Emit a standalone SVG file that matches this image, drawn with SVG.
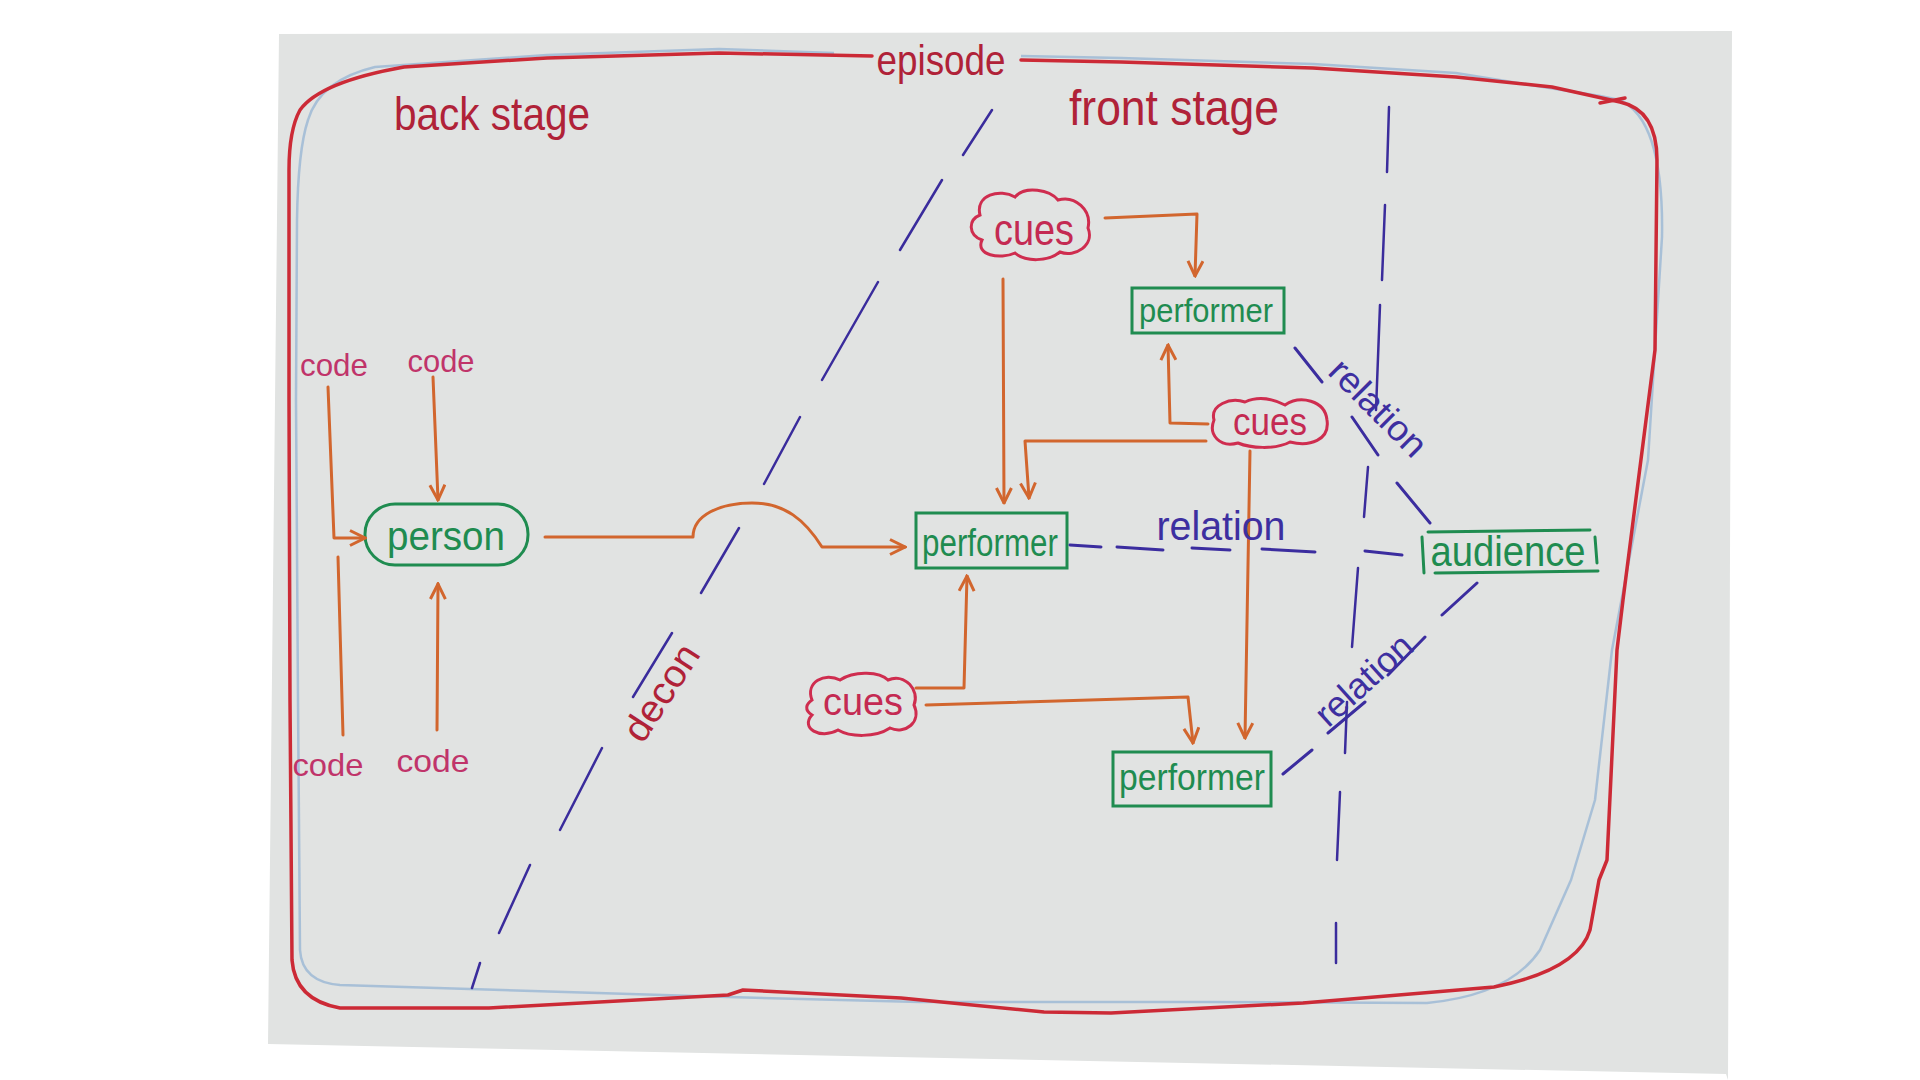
<svg xmlns="http://www.w3.org/2000/svg" width="1920" height="1080" viewBox="0 0 1920 1080">
<defs>
<style>
.paper{fill:#e1e3e2}
.frame{fill:none;stroke:#cc2a36;stroke-width:3.5;stroke-linejoin:round;stroke-linecap:round}
.frameb{fill:none;stroke:#9ab6d4;stroke-width:2.5;opacity:.8;stroke-linejoin:round}
.node{fill:none;stroke:#1f8c50;stroke-width:3;stroke-linecap:round}
.t{font-family:"Liberation Sans","DejaVu Sans",sans-serif;text-anchor:middle}
.green{fill:#1f8c50}
.cue{fill:none;stroke:#cf2d4f;stroke-width:3}
.cuet{fill:#c42a52}
.code{fill:#c0346a}
.title{fill:#b02238}
.arrow{fill:none;stroke:#d2662e;stroke-width:3;stroke-linejoin:round;stroke-linecap:round;marker-end:url(#ah)}
.line{fill:none;stroke:#d2662e;stroke-width:3;stroke-linecap:round}
.rel{fill:none;stroke:#3b2d9f;stroke-width:3;stroke-linecap:round}
.relt{fill:#3d2fa0}
.dash{fill:none;stroke:#3a2c9c;stroke-width:2.5;stroke-linecap:round}
</style>
<marker id="ah" viewBox="0 0 12 12" refX="11" refY="6" markerWidth="18" markerHeight="18" markerUnits="userSpaceOnUse" orient="auto">
<path d="M1,1 L11,6 L1,11" fill="none" stroke="#d2662e" stroke-width="2"/>
</marker>
</defs>
<rect x="0" y="0" width="1920" height="1080" fill="#ffffff"/>
<polygon class="paper" points="279,34 1732,31 1728,1080 1726,1074 268,1044"/>

<g id="episode-frame">
<path class="frameb" d="M834,53 L719,49 L547,55 L375,67 Q320,80 308,120 Q298,150 297,220 L296,400 L298,700 L300,950 Q302,982 340,985 L728,997 L920,1002 L1207,1002 L1427,1003 Q1510,995 1540,950 L1571,880 L1595,800 L1612,650 L1648,460 L1662,237 Q1664,120 1620,100 L1600,96 L1456,73 L1313,64 L1121,58 L1021,56"/>
<path class="frame" d="M872,56 L719,53 L547,58 L404,67 Q320,82 300,110 Q289,130 289,170 L289,400 L290,700 L292,960 Q295,1000 340,1008 L489,1008 L728,995 L743,990 L901,998 L1044,1012 L1111,1013 L1303,1003 L1494,987 Q1578,970 1590,930 L1599,880 L1607,860 L1617,650 L1623,600 L1655,350 L1657,160 Q1657,110 1620,102 L1552,87 L1456,77 L1313,68 L1121,62 L1021,60"/>
<path class="frame" d="M1600,103 L1625,98"/>
<text class="t title" x="941" y="75" font-size="42" textLength="129" lengthAdjust="spacingAndGlyphs">episode</text>
</g>

<g id="stage-labels">
<text class="t title" x="492" y="130" font-size="46" textLength="196" lengthAdjust="spacingAndGlyphs">back stage</text>
<text class="t title" x="1174" y="125" font-size="50" textLength="210" lengthAdjust="spacingAndGlyphs">front stage</text>
<text class="t title" transform="translate(662,693) rotate(-57)" x="0" y="12" font-size="38" textLength="108" lengthAdjust="spacingAndGlyphs">decon</text>
</g>

<g id="stage-boundaries">
<path class="dash" d="M992,110 L963,155 M942,180 L900,250 M878,282 L822,380 M800,417 L764,484 M739,528 L701,593 M672,633 L633,697 M602,748 L560,830 M530,865 L499,933 M480,963 L472,988"/>
<path class="dash" d="M1389,107 L1387,172 M1385,205 L1382,280 M1380,305 L1376,410 M1368,467 L1364,517 M1358,568 L1352,647 M1347,702 L1345,753 M1340,792 L1337,860 M1336,923 L1336,963"/>
</g>

<g id="code-1"><text class="t code" x="334" y="376" font-size="32" textLength="68" lengthAdjust="spacingAndGlyphs">code</text></g>
<g id="code-2"><text class="t code" x="441" y="372" font-size="32" textLength="67" lengthAdjust="spacingAndGlyphs">code</text></g>
<g id="code-3"><text class="t code" x="328" y="776" font-size="32" textLength="71" lengthAdjust="spacingAndGlyphs">code</text></g>
<g id="code-4"><text class="t code" x="433" y="772" font-size="32" textLength="73" lengthAdjust="spacingAndGlyphs">code</text></g>

<g id="person">
<rect class="node" x="365" y="504" width="163" height="61" rx="30" ry="30"/>
<text class="t green" x="446" y="550" font-size="40" textLength="118" lengthAdjust="spacingAndGlyphs">person</text>
</g>

<g id="performer-main">
<rect class="node" x="916" y="513" width="151" height="55"/>
<text class="t green" x="990" y="556" font-size="38" textLength="136" lengthAdjust="spacingAndGlyphs">performer</text>
</g>

<g id="performer-top">
<rect class="node" x="1132" y="288" width="152" height="45"/>
<text class="t green" x="1206" y="322" font-size="34" textLength="134" lengthAdjust="spacingAndGlyphs">performer</text>
</g>

<g id="performer-bottom">
<rect class="node" x="1113" y="752" width="158" height="54"/>
<text class="t green" x="1192" y="790" font-size="36" textLength="146" lengthAdjust="spacingAndGlyphs">performer</text>
</g>

<g id="audience">
<path class="node" d="M1428,532 L1590,530 M1435,573 L1598,571 M1422,537 L1424,573 M1595,537 L1597,563"/>
<text class="t green" x="1508" y="566" font-size="42" textLength="155" lengthAdjust="spacingAndGlyphs">audience</text>
</g>

<g id="cues-top">
<path class="cue" d="M980,215 C975,195 1000,188 1015,197 C1025,185 1050,190 1058,200 C1075,195 1092,210 1088,228 C1095,245 1075,258 1060,252 C1048,262 1025,262 1015,253 C1000,260 975,255 982,240 C968,235 968,220 980,215 Z"/>
<text class="t cuet" x="1034" y="245" font-size="44" textLength="80" lengthAdjust="spacingAndGlyphs">cues</text>
</g>

<g id="cues-mid">
<path class="cue" d="M1214,420 C1210,405 1230,397 1245,402 C1260,395 1275,400 1285,405 C1300,395 1325,400 1327,420 C1330,440 1310,447 1290,442 C1275,450 1250,448 1238,443 C1220,448 1208,435 1214,420 Z"/>
<text class="t cuet" x="1270" y="435" font-size="38" textLength="74" lengthAdjust="spacingAndGlyphs">cues</text>
</g>

<g id="cues-bottom">
<path class="cue" d="M812,700 C805,682 825,672 840,680 C855,670 880,672 888,680 C905,673 920,690 914,705 C922,722 905,735 890,728 C875,738 850,737 838,730 C820,740 800,728 812,715 C804,710 806,704 812,700 Z"/>
<text class="t cuet" x="863" y="715" font-size="38" textLength="80" lengthAdjust="spacingAndGlyphs">cues</text>
</g>

<g id="connectors">
<path class="arrow" d="M328,387 L334,538 L365,538"/>
<path class="arrow" d="M433,377 L438,500"/>
<path class="line" d="M343,735 L338,557"/>
<path class="arrow" d="M437,730 L438,584"/>
<path class="arrow" d="M545,537 L693,537 C693,515 720,503 752,503 C785,503 805,520 822,547 L905,547"/>
<path class="arrow" d="M1105,218 L1197,214 L1195,276"/>
<path class="arrow" d="M1003,279 L1004,503"/>
<path class="arrow" d="M1208,424 L1170,423 L1168,345"/>
<path class="arrow" d="M1206,441 L1025,441 L1029,498"/>
<path class="arrow" d="M1250,451 L1245,738"/>
<path class="arrow" d="M916,688 L964,688 L967,576"/>
<path class="arrow" d="M926,705 L1188,697 L1193,743"/>
<path class="rel" d="M1070,545 L1101,547 M1117,547 L1163,550 M1192,548 L1230,550 M1262,549 L1315,552 M1365,551 L1402,555"/>
<path class="rel" d="M1295,348 L1322,382 M1352,417 L1378,455 M1397,483 L1430,523"/>
<path class="rel" d="M1283,774 L1312,750 M1328,733 L1365,702 M1388,675 L1425,637 M1442,615 L1477,583"/>
<text class="t relt" x="1221" y="540" font-size="40" textLength="129" lengthAdjust="spacingAndGlyphs">relation</text>
<text class="t relt" transform="translate(1378,408) rotate(45)" x="0" y="12" font-size="36" textLength="122" lengthAdjust="spacingAndGlyphs">relation</text>
<text class="t relt" transform="translate(1364,680) rotate(-42)" x="0" y="12" font-size="36" textLength="118" lengthAdjust="spacingAndGlyphs">relation</text>
</g>
</svg>
